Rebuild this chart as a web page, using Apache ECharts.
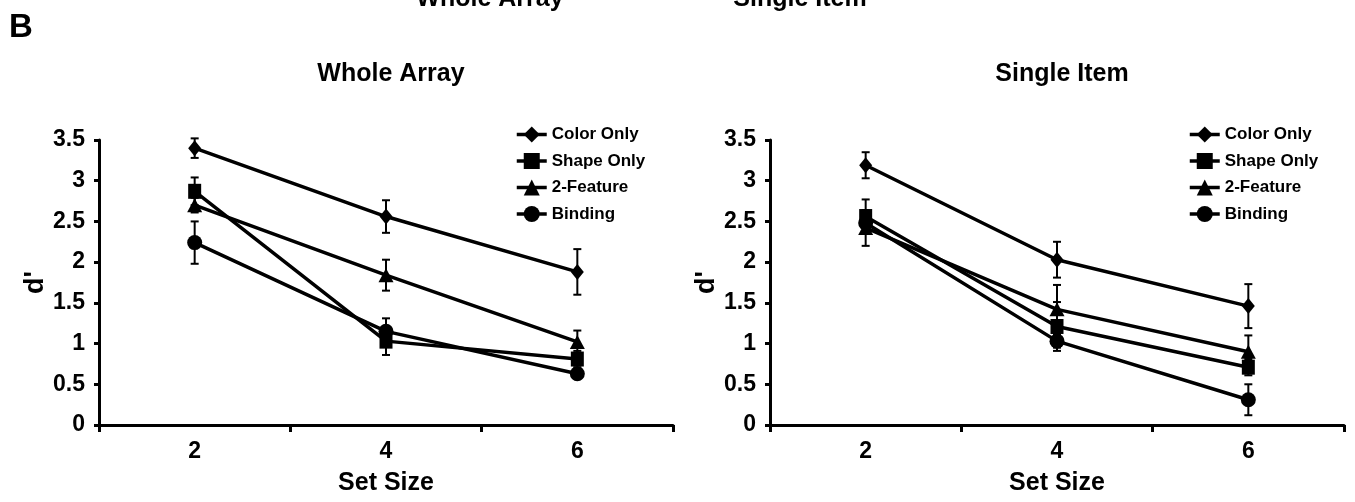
<!DOCTYPE html>
<html>
<head>
<meta charset="utf-8">
<script src="https://cdn.jsdelivr.net/npm/echarts@6/dist/echarts.min.js"></script>
<style>
html,body{margin:0;padding:0;background:#fff;}
#c{width:1355px;height:502px;}
</style>
</head>
<body>
<div id="c"></div>
<script>
// ---- data ----
const categories = ['2', '4', '6'];
const seriesNames = ['Color Only', 'Shape Only', '2-Feature', 'Binding'];
const panelTitles = ['Whole Array', 'Single Item'];

const wholeColor = [3.40, 2.56, 1.88];
const wholeColorErr = [0.12, 0.20, 0.28];
const wholeShape = [2.87, 1.03, 0.81];
const wholeShapeErr = [0.17, 0.17, 0.10];
const wholeFeature = [2.70, 1.84, 1.02];
const wholeFeatureErr = [0.09, 0.19, 0.14];
const wholeBinding = [2.24, 1.15, 0.63];
const wholeBindingErr = [0.26, 0.16, 0.06];

const singleColor = [3.19, 2.03, 1.46];
const singleColorErr = [0.16, 0.22, 0.27];
const singleShape = [2.56, 1.21, 0.71];
const singleShapeErr = [0.21, 0.30, 0.10];
const singleFeature = [2.42, 1.42, 0.90];
const singleFeatureErr = [0.22, 0.30, 0.20];
const singleBinding = [2.48, 1.03, 0.31];
const singleBindingErr = [0.10, 0.08, 0.19];

const yMin = 0, yMax = 3.5, yInterval = 0.5;

// ---- chart ----
const FONT = "'Liberation Sans', Arial, sans-serif";
const chart = echarts.init(document.getElementById('c'), null, {renderer: 'canvas'});

const symbols = ['diamond', 'rect', 'triangle', 'circle'];
const symbolSizes = [[13, 16], [13, 15], [15, 14], [15, 15]];

const panels = [
  {vals: [wholeColor, wholeShape, wholeFeature, wholeBinding],
   errs: [wholeColorErr, wholeShapeErr, wholeFeatureErr, wholeBindingErr]},
  {vals: [singleColor, singleShape, singleFeature, singleBinding],
   errs: [singleColorErr, singleShapeErr, singleFeatureErr, singleBindingErr]}
];

const grids = [
  {left: 99, width: 574, top: 140, height: 285},
  {left: 770, width: 574, top: 140, height: 285}
];

const xAxes = grids.map((g, i) => ({
  type: 'category', gridIndex: i, data: categories, boundaryGap: true,
  axisLine: {lineStyle: {color: '#000', width: 3}},
  axisTick: {show: true, length: 7, lineStyle: {color: '#000', width: 3}},
  axisLabel: {color: '#000', fontFamily: FONT, fontWeight: 'bold', fontSize: 23, margin: 15},
  name: 'Set Size', nameLocation: 'middle', nameGap: 46,
  nameTextStyle: {color: '#000', fontFamily: FONT, fontWeight: 'bold', fontSize: 25}
}));

const yAxes = grids.map((g, i) => ({
  type: 'value', gridIndex: i, min: yMin, max: yMax, interval: yInterval,
  axisLine: {show: true, lineStyle: {color: '#000', width: 3}},
  axisTick: {show: true, length: 5, lineStyle: {color: '#000', width: 3}},
  splitLine: {show: false},
  axisLabel: {color: '#000', fontFamily: FONT, fontWeight: 'bold', fontSize: 23, margin: 14},
  name: "d'", nameLocation: 'middle', nameGap: 46, nameRotate: 90,
  nameTextStyle: {color: '#000', fontFamily: FONT, fontWeight: 'bold', fontSize: 27}
}));

const series = [];
panels.forEach((p, pi) => {
  p.vals.forEach((v, si) => {
    const errData = categories.map((c, k) => [k, v[k] - p.errs[si][k], v[k] + p.errs[si][k]]);
    series.push({
      type: 'custom', xAxisIndex: pi, yAxisIndex: pi,
      data: errData, z: 2, silent: true,
      renderItem: function (params, api) {
        const lo = api.coord([api.value(0), api.value(1)]);
        const hi = api.coord([api.value(0), api.value(2)]);
        const w = 4;
        const st = {stroke: '#000', lineWidth: 2};
        return {type: 'group', children: [
          {type: 'line', shape: {x1: lo[0], y1: lo[1], x2: hi[0], y2: hi[1]}, style: st},
          {type: 'line', shape: {x1: lo[0] - w, y1: lo[1], x2: lo[0] + w, y2: lo[1]}, style: st},
          {type: 'line', shape: {x1: hi[0] - w, y1: hi[1], x2: hi[0] + w, y2: hi[1]}, style: st}
        ]};
      }
    });
    series.push({
      type: 'line', name: seriesNames[si], xAxisIndex: pi, yAxisIndex: pi,
      data: v, symbol: symbols[si], symbolSize: symbolSizes[si], showSymbol: true,
      lineStyle: {color: '#000', width: 3.5},
      itemStyle: {color: '#000', borderWidth: 0},
      z: 3, animation: false
    });
  });
});

const legends = [510, 1183].map(x => ({
  orient: 'vertical', left: x, top: 121, itemGap: 9.5, itemWidth: 30, itemHeight: 20,
  data: seriesNames,
  lineStyle: {color: '#000', width: 3.5},
  textStyle: {color: '#000', fontFamily: FONT, fontWeight: 'bold', fontSize: 17},
  selectedMode: false
}));

chart.setOption({
  animation: false,
  backgroundColor: '#fff',
  grid: grids,
  xAxis: xAxes,
  yAxis: yAxes,
  legend: legends,
  title: [
    {text: panelTitles[0], left: 386, top: 57, textAlign: 'center',
     textStyle: {color: '#000', fontFamily: FONT, fontWeight: 'bold', fontSize: 25}},
    {text: panelTitles[1], left: 1057, top: 57, textAlign: 'center',
     textStyle: {color: '#000', fontFamily: FONT, fontWeight: 'bold', fontSize: 25}}
  ],
  graphic: [
    {type: 'text', left: 9, top: 11, style: {text: 'B', fill: '#000', font: "bold 33px " + FONT}},
    {type: 'text', x: 490, y: -1, style: {text: panelTitles[0], fill: '#000', font: "bold 25px " + FONT, align: 'center', verticalAlign: 'middle'}},
    {type: 'text', x: 800, y: -1, style: {text: panelTitles[1], fill: '#000', font: "bold 25px " + FONT, align: 'center', verticalAlign: 'middle'}}
  ],
  series: series
});
</script>
</body>
</html>
